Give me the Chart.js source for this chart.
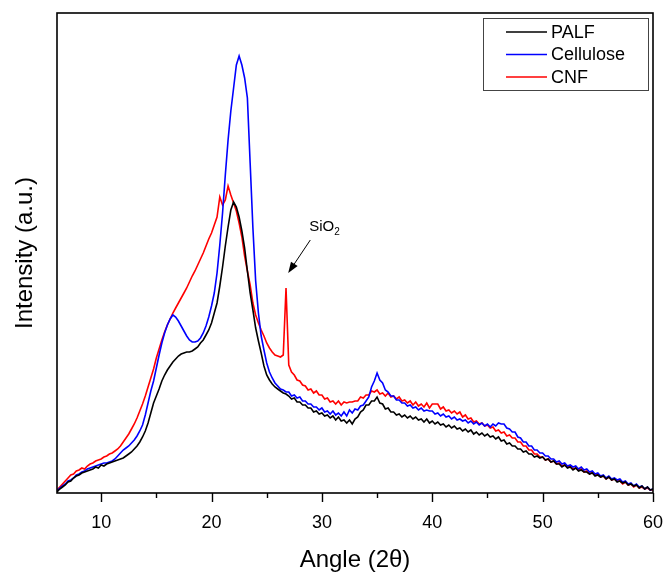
<!DOCTYPE html>
<html>
<head>
<meta charset="utf-8">
<title>XRD patterns</title>
<script src="https://cdn.jsdelivr.net/npm/chart.js@4.4.1/dist/chart.umd.min.js"></script>
<style>
  html, body { margin: 0; padding: 0; background: #fff; }
</style>
</head>
<body>
<canvas id="chart" width="665" height="573"></canvas>
<script>
'use strict';

// one reading every 0.25 deg, from 6 to 60 deg (2 theta)
const angleStart = 6;
const angleStep = 0.25;

const xTicks = [10, 20, 30, 40, 50, 60];
const xMinorTicks = [15, 25, 35, 45, 55];

const seriesNames = ['PALF', 'Cellulose', 'CNF'];
const seriesColors = ['#000000', '#0000ff', '#ff0000'];

// intensities, arbitrary units (rows = one degree)
const palf = [
  1, 4, 6, 8,
  11, 12, 15, 17,
  18, 20, 21, 22,
  23, 24, 26, 25,
  28, 27, 29, 30,
  31, 32, 33, 34,
  35, 37, 39, 41,
  44, 47, 51, 56,
  62, 70, 80, 90,
  97, 104, 112, 118,
  123, 127, 131, 134,
  137, 139, 140, 141,
  141, 142, 144, 146,
  150, 153, 158, 163,
  170, 180, 190, 207,
  226, 247, 266, 283,
  291, 286, 276, 262,
  245, 222, 200, 183,
  165, 152, 140, 127,
  118, 113, 109, 106,
  104, 102, 100, 99,
  97, 94, 95, 91,
  91, 88, 88, 85,
  85, 81, 82, 79,
  80, 77, 78, 75,
  77, 73, 76, 72,
  73, 70, 73, 69,
  74, 76, 81, 83,
  88, 88, 92, 92,
  96, 90, 89, 84,
  85, 81, 81, 78,
  79, 76, 78, 75,
  77, 74, 76, 73,
  74, 71, 74, 70,
  72, 69, 71, 68,
  69, 66, 68, 65,
  67, 64, 65, 62,
  64, 61, 63, 59,
  61, 58, 60, 57,
  59, 56, 57, 54,
  56, 52, 53, 49,
  50, 47, 47, 44,
  44, 41, 42, 39,
  39, 36, 37, 35,
  36, 33, 34, 31,
  32, 29, 29, 26,
  28, 25, 26, 23,
  25, 22, 23, 21,
  21, 19, 20, 17,
  18, 16, 17, 14,
  16, 13, 14, 11,
  12, 10, 11, 8,
  9, 7, 8, 5,
  7, 4, 6, 3,
  4
];

const cellulose = [
  2, 5, 7, 9,
  12, 13, 15, 18,
  19, 21, 22, 24,
  25, 26, 27, 28,
  29, 30, 30, 31,
  32, 34, 37, 40,
  43, 45, 47, 50,
  53, 57, 62, 68,
  78, 90, 102, 112,
  125, 138, 150, 160,
  168, 174, 178, 176,
  172, 167, 162, 157,
  153, 151, 151, 152,
  155, 160, 167, 176,
  187, 200, 220, 248,
  280, 318, 353, 382,
  405, 428, 437, 428,
  415, 395, 330, 265,
  212, 180, 157, 143,
  130, 121, 115, 110,
  107, 104, 103, 101,
  101, 97, 98, 95,
  96, 92, 92, 89,
  89, 86, 86, 83,
  85, 81, 82, 79,
  82, 78, 80, 77,
  81, 77, 83, 80,
  84, 83, 87, 88,
  92, 96, 106, 112,
  120, 113, 110, 103,
  101, 97, 97, 93,
  93, 90, 90, 87,
  88, 85, 86, 83,
  85, 82, 83, 82,
  82, 79, 80, 77,
  79, 76, 77, 74,
  76, 73, 74, 72,
  73, 70, 72, 69,
  71, 68, 70, 67,
  69, 66, 69, 67,
  70, 69, 69, 65,
  64, 61, 61, 56,
  55, 51, 51, 47,
  47, 43, 43, 40,
  40, 37, 37, 34,
  34, 31, 32, 29,
  30, 27, 28, 26,
  27, 24, 26, 23,
  24, 21, 22, 19,
  20, 17, 18, 15,
  17, 14, 15, 13,
  14, 11, 12, 9,
  10, 7, 9, 6,
  7, 4, 6, 3,
  4
];

const cnf = [
  3, 6, 9, 12,
  15, 18, 19, 22,
  23, 25, 24, 27,
  29, 30, 32, 33,
  34, 36, 37, 39,
  40, 42, 44, 47,
  51, 55, 59, 64,
  69, 75, 82, 89,
  97, 106, 115, 124,
  135, 144, 153, 161,
  168, 174, 180, 185,
  190, 195, 200, 205,
  211, 217, 222, 228,
  234, 240, 247, 254,
  260, 268, 276, 296,
  288, 293, 307, 298,
  290, 282, 270, 256,
  237, 222, 208, 190,
  178, 170, 163, 157,
  150, 145, 141, 138,
  137, 136, 138, 205,
  128, 121, 118, 113,
  112, 108, 107, 103,
  104, 100, 102, 98,
  98, 94, 95, 91,
  92, 89, 92, 88,
  91, 90, 91, 91,
  92, 92, 96, 95,
  98, 98, 102, 101,
  103, 99, 100, 97,
  100, 96, 97, 94,
  96, 92, 93, 90,
  92, 88, 91, 87,
  89, 86, 90, 85,
  89, 89, 89, 84,
  86, 82, 83, 80,
  82, 79, 81, 76,
  78, 74, 75, 71,
  72, 69, 70, 67,
  68, 65, 66, 62,
  63, 60, 61, 57,
  58, 55, 55, 51,
  51, 47, 47, 43,
  43, 39, 39, 36,
  36, 33, 34, 31,
  32, 29, 30, 27,
  28, 26, 27, 24,
  25, 23, 24, 21,
  22, 19, 21, 18,
  19, 16, 17, 14,
  16, 13, 14, 12,
  12, 9, 11, 8,
  9, 6, 8, 5,
  6, 4, 5, 3,
  3
];

const seriesValues = [palf, cellulose, cnf];
const angles = palf.map((_, i) => angleStart + i * angleStep);

const fontFamily = '"Liberation Sans", Arial, Helvetica, sans-serif';
Chart.defaults.font.family = fontFamily;
Chart.defaults.color = '#000';

// box frame plus outward major/minor ticks on the angle axis
const frameAndTicks = {
  id: 'frameAndTicks',
  afterDraw(chart) {
    const { ctx, chartArea: a, scales: { x } } = chart;
    ctx.save();
    ctx.strokeStyle = '#000';
    ctx.lineWidth = 1.6;
    ctx.strokeRect(a.left, a.top, a.right - a.left, a.bottom - a.top);
    ctx.beginPath();
    xTicks.forEach(v => {
      const px = Math.round(x.getPixelForValue(v)) + 0.5;
      ctx.moveTo(px, a.bottom);
      ctx.lineTo(px, a.bottom + 9);
    });
    xMinorTicks.forEach(v => {
      const px = Math.round(x.getPixelForValue(v)) + 0.5;
      ctx.moveTo(px, a.bottom);
      ctx.lineTo(px, a.bottom + 5);
    });
    ctx.lineWidth = 1.4;
    ctx.stroke();
    ctx.restore();
  }
};

// legend in a framed box at the top right of the plot
const boxLegend = {
  id: 'boxLegend',
  afterDraw(chart) {
    const { ctx, chartArea: a } = chart;
    const w = 165, h = 72;
    const left = a.right - 170, top = a.top + 5;
    ctx.save();
    ctx.fillStyle = '#fff';
    ctx.fillRect(left, top, w, h);
    ctx.strokeStyle = '#444';
    ctx.lineWidth = 1;
    ctx.strokeRect(left + 0.5, top + 0.5, w, h);
    ctx.font = '18px ' + fontFamily;
    ctx.textBaseline = 'middle';
    chart.data.datasets.forEach((ds, i) => {
      const y = top + 14 + i * 22.5;
      ctx.strokeStyle = ds.borderColor;
      ctx.lineWidth = 1.6;
      ctx.beginPath();
      ctx.moveTo(left + 23, y);
      ctx.lineTo(left + 64, y);
      ctx.stroke();
      ctx.fillStyle = '#000';
      ctx.fillText(ds.label, left + 68, y + 1);
    });
    ctx.restore();
  }
};

// label and arrow for the quartz reflection on the CNF trace
const sio2Note = {
  id: 'sio2Note',
  afterDatasetsDraw(chart) {
    const { ctx, scales: { x, y } } = chart;
    const tipX = x.getPixelForValue(26.95), tipY = y.getPixelForValue(220);
    const tailX = x.getPixelForValue(28.95), tailY = y.getPixelForValue(253);
    const ang = Math.atan2(tipY - tailY, tipX - tailX);
    ctx.save();
    ctx.strokeStyle = '#000';
    ctx.fillStyle = '#000';
    ctx.lineWidth = 1;
    ctx.beginPath();
    ctx.moveTo(tailX, tailY);
    ctx.lineTo(tipX - 8 * Math.cos(ang), tipY - 8 * Math.sin(ang));
    ctx.stroke();
    ctx.beginPath();
    ctx.moveTo(tipX, tipY);
    ctx.lineTo(tipX - 11 * Math.cos(ang) + 4 * Math.sin(ang), tipY - 11 * Math.sin(ang) - 4 * Math.cos(ang));
    ctx.lineTo(tipX - 11 * Math.cos(ang) - 4 * Math.sin(ang), tipY - 11 * Math.sin(ang) + 4 * Math.cos(ang));
    ctx.closePath();
    ctx.fill();
    const tx = x.getPixelForValue(28.85), ty = y.getPixelForValue(262);
    ctx.font = '15px ' + fontFamily;
    ctx.textBaseline = 'alphabetic';
    ctx.fillText('SiO', tx, ty);
    const sw = ctx.measureText('SiO').width;
    ctx.font = '10px ' + fontFamily;
    ctx.fillText('2', tx + sw, ty + 4);
    ctx.restore();
  }
};

function renderChart() {
  const ctx = document.getElementById('chart');
  const datasets = seriesNames.map((name, k) => ({
    label: name,
    data: seriesValues[k].map((v, i) => ({ x: angles[i], y: v })),
    borderColor: seriesColors[k],
    backgroundColor: seriesColors[k],
    borderWidth: 1.6,
    pointRadius: 0,
    fill: false,
    tension: 0
  }));

  new Chart(ctx, {
    type: 'line',
    data: { datasets: datasets },
    options: {
      responsive: false,
      animation: false,
      devicePixelRatio: 1,
      layout: { padding: { top: 13, right: 12, left: 0, bottom: 0 } },
      plugins: {
        legend: { display: false },
        tooltip: { enabled: false }
      },
      scales: {
        x: {
          type: 'linear',
          min: 6,
          max: 60,
          afterBuildTicks: scale => { scale.ticks = xTicks.map(v => ({ value: v })); },
          afterFit: scale => {
            scale.height = 80;
            // the "60" label fits inside the right margin already
            scale.paddingLeft = 0;
            scale.paddingRight = 0;
          },
          grid: { display: false },
          border: { display: false },
          ticks: { font: { size: 18 }, color: '#000', padding: 11, maxRotation: 0, autoSkip: false },
          title: { display: true, text: 'Angle (2θ)', font: { size: 24 }, color: '#000', padding: { top: 0, bottom: -2 } }
        },
        y: {
          min: 0,
          max: 480,
          afterFit: scale => { scale.width = 57; },
          grid: { display: false },
          border: { display: false },
          ticks: { display: false },
          title: { display: true, text: 'Intensity (a.u.)', font: { size: 24 }, color: '#000', padding: { top: 11, bottom: 0 } }
        }
      }
    },
    plugins: [frameAndTicks, sio2Note, boxLegend]
  });
}
renderChart();
</script>
</body>
</html>
